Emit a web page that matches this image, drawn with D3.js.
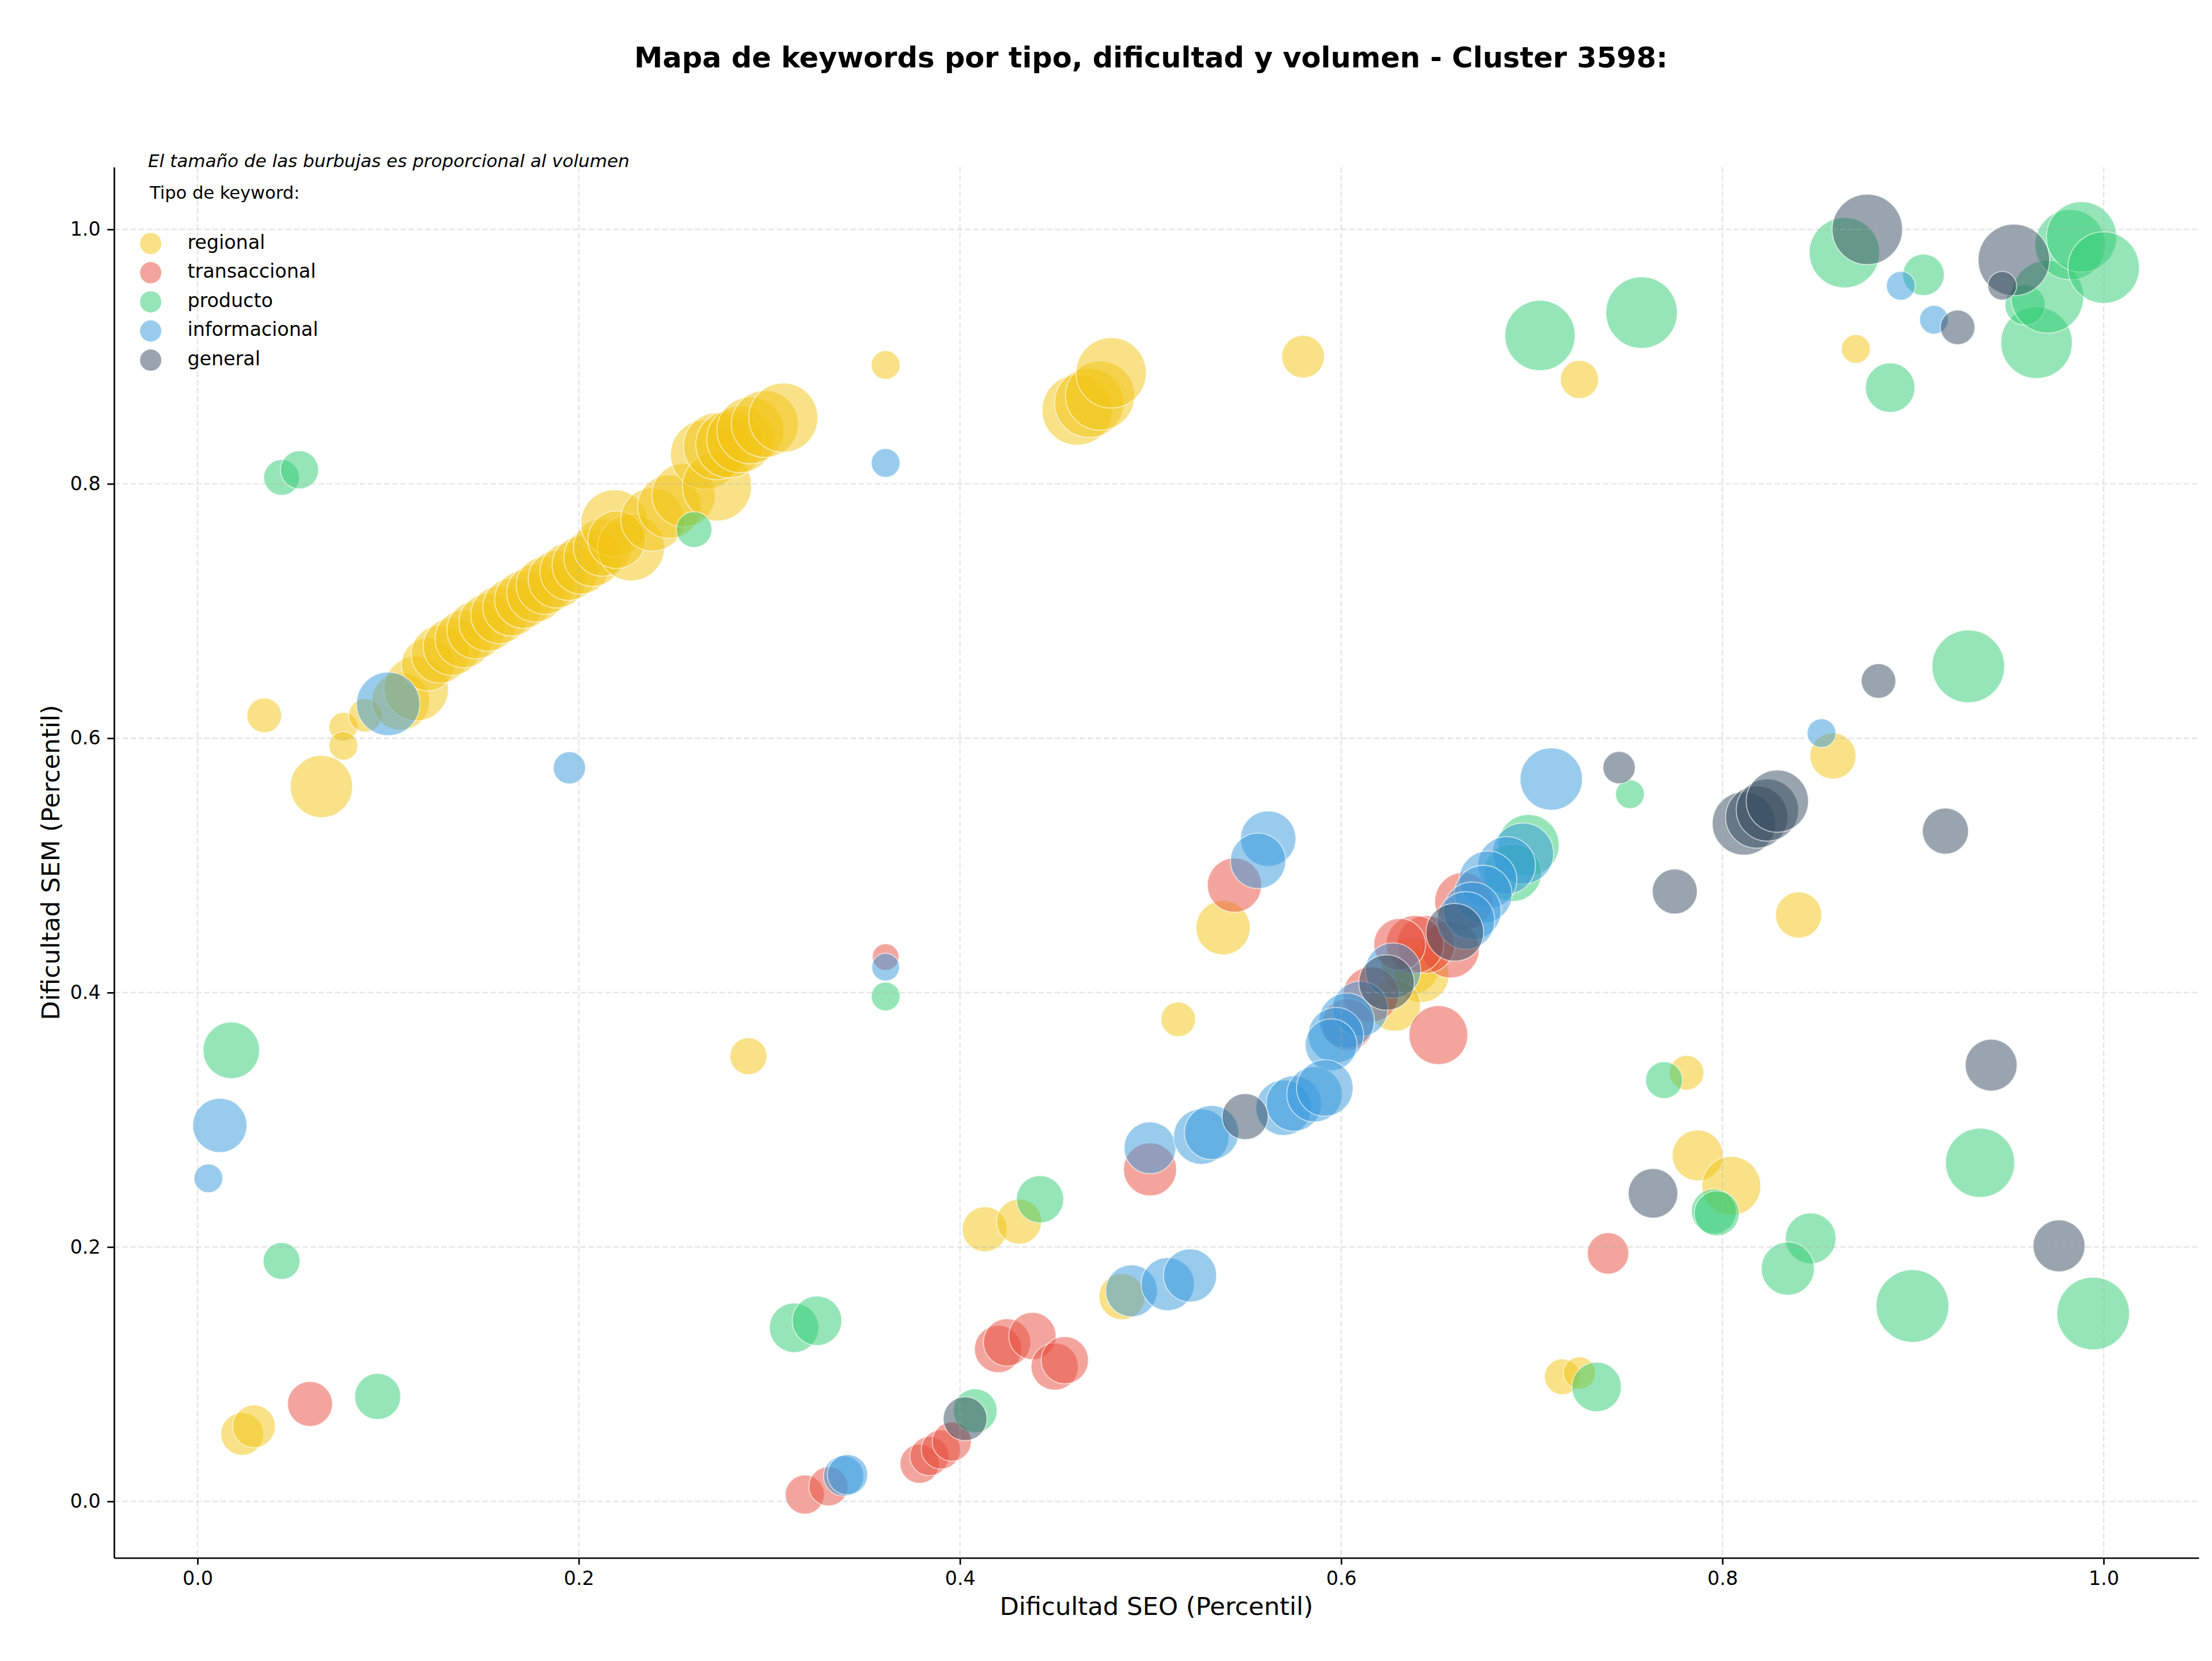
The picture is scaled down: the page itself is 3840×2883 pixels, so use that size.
<!DOCTYPE html>
<html>
<head>
<meta charset="utf-8">
<script src="https://cdn.jsdelivr.net/npm/d3@7"></script>
<style>
  body { margin: 0; background: #fff; }
  text { font-family: "DejaVu Sans", sans-serif; }
</style>
</head>
<body>
<div id="chart"></div>
<script>
// data: [dificultad SEO, dificultad SEM, volumen]
const regional = [
  [0.035, 0.618, 1170], [0.0765, 0.609, 810], [0.0765, 0.594, 810], [0.088, 0.618, 1090],
  [0.065, 0.562, 3790],
  [0.1066, 0.629, 3250], [0.1147, 0.639, 4080], [0.1209, 0.658, 2750], [0.1272, 0.666, 3250],
  [0.1335, 0.672, 3250], [0.1397, 0.678, 3250], [0.146, 0.685, 3250], [0.1523, 0.691, 3250],
  [0.1585, 0.697, 3250], [0.1648, 0.703, 3250], [0.171, 0.709, 3250], [0.1773, 0.714, 3250],
  [0.1823, 0.720, 3250], [0.1886, 0.725, 3250], [0.1948, 0.731, 3250], [0.2011, 0.736, 3250],
  [0.2073, 0.742, 3250], [0.2124, 0.750, 3250], [0.2186, 0.769, 4370], [0.2274, 0.750, 4370],
  [0.2199, 0.756, 3250], [0.2387, 0.772, 3930], [0.2475, 0.782, 3930], [0.255, 0.791, 3930],
  [0.2663, 0.823, 4680], [0.2725, 0.798, 4680], [0.2725, 0.8295, 4370], [0.2789, 0.831, 4370],
  [0.2847, 0.835, 4370], [0.290, 0.842, 4370], [0.2976, 0.847, 4370], [0.3073, 0.852, 4680],
  [0.361, 0.8934, 810],
  [0.4615, 0.858, 4840], [0.4678, 0.8636, 4680], [0.4735, 0.8693, 4680], [0.4793, 0.8872, 4840],
  [0.580, 0.900, 1780], [0.725, 0.882, 1420], [0.870, 0.906, 810],
  [0.858, 0.586, 2080], [0.840, 0.461, 2080], [0.538, 0.451, 2870], [0.5145, 0.379, 1170],
  [0.289, 0.350, 1330], [0.7812, 0.337, 1170], [0.787, 0.272, 2520], [0.8047, 0.248, 3380],
  [0.413, 0.214, 1980], [0.431, 0.220, 1980], [0.485, 0.161, 2080],
  [0.716, 0.098, 1250], [0.725, 0.101, 1020], [0.0234, 0.053, 1780], [0.0296, 0.059, 1780],
  [0.6365, 0.421, 3250], [0.642, 0.414, 3000], [0.628, 0.390, 2630]
];
const transaccional = [
  [0.361, 0.428, 690], [0.544, 0.4845, 2870], [0.651, 0.3666, 3380], [0.4997, 0.261, 2750],
  [0.740, 0.195, 1680], [0.059, 0.0766, 1980],
  [0.3186, 0.0054, 1500], [0.331, 0.0118, 1500], [0.3788, 0.0296, 1500], [0.384, 0.0356, 1500],
  [0.390, 0.0408, 1500], [0.3957, 0.047, 1500],
  [0.420, 0.1198, 2190], [0.4247, 0.125, 2190], [0.438, 0.130, 2190], [0.4497, 0.106, 2190],
  [0.455, 0.111, 2190],
  [0.6642, 0.4718, 3250], [0.6573, 0.4342, 3250], [0.6445, 0.4379, 3250], [0.6387, 0.4379, 3250],
  [0.6307, 0.4379, 2630], [0.6156, 0.3985, 3000], [0.6035, 0.375, 2630]
];
const producto = [
  [0.0441, 0.805, 1250], [0.0535, 0.811, 1420], [0.2605, 0.764, 1250], [0.361, 0.397, 810],
  [0.0177, 0.3546, 3120], [0.0441, 0.189, 1330], [0.0945, 0.0825, 2080],
  [0.313, 0.1365, 2400], [0.325, 0.142, 2400], [0.442, 0.2375, 2190], [0.408, 0.0713, 1880],
  [0.6983, 0.516, 3650], [0.690, 0.4943, 3250],
  [0.7043, 0.9166, 4840], [0.7576, 0.9346, 5000], [0.7515, 0.556, 810], [0.7694, 0.3312, 1330],
  [0.7955, 0.228, 1980], [0.797, 0.2265, 1980], [0.8463, 0.2068, 2520], [0.8343, 0.183, 2750],
  [0.734, 0.090, 2400], [0.8997, 0.1536, 5160], [0.9352, 0.2662, 4680], [0.9945, 0.1477, 5160],
  [0.929, 0.6565, 5160], [0.888, 0.8756, 2400], [0.9055, 0.9643, 1680], [0.864, 0.9817, 4840],
  [0.9648, 0.9109, 5000], [0.9588, 0.9406, 1590], [0.9705, 0.947, 5160], [0.9825, 0.988, 4840],
  [0.9884, 0.9941, 4840], [1.0, 0.970, 5000]
];
const informacional = [
  [0.361, 0.8164, 810], [0.100, 0.627, 3930], [0.1951, 0.5767, 1020], [0.361, 0.420, 750],
  [0.0117, 0.2956, 2870], [0.0057, 0.254, 810], [0.339, 0.020, 1590], [0.341, 0.021, 1590],
  [0.8936, 0.9557, 810], [0.911, 0.929, 810], [0.852, 0.604, 810],
  [0.7102, 0.5679, 3790], [0.5617, 0.521, 3000], [0.5564, 0.5036, 3000],
  [0.6954, 0.5093, 3650], [0.6868, 0.500, 3250], [0.677, 0.4887, 3250], [0.6745, 0.4774, 3250],
  [0.6688, 0.4643, 3250], [0.6654, 0.4567, 3250], [0.6272, 0.4173, 3000], [0.61, 0.3872, 3000],
  [0.6029, 0.3779, 3000], [0.5972, 0.3666, 3000], [0.5947, 0.359, 2630],
  [0.4997, 0.278, 2630], [0.5266, 0.2868, 3000], [0.532, 0.290, 2870], [0.5698, 0.3095, 3000],
  [0.5752, 0.3128, 3000], [0.586, 0.320, 3000], [0.5914, 0.325, 3120],
  [0.490, 0.1655, 2630], [0.509, 0.1708, 2750], [0.5207, 0.1776, 2750]
];
const general = [
  [0.876, 1.0, 4840], [0.9529, 0.976, 5000], [0.9468, 0.9557, 810], [0.9234, 0.923, 1170],
  [0.8819, 0.645, 1170], [0.7458, 0.5769, 1020], [0.775, 0.4795, 1980], [0.917, 0.527, 2080],
  [0.941, 0.343, 2630], [0.7636, 0.2422, 2400], [0.9766, 0.2009, 2630], [0.5496, 0.3025, 2080],
  [0.4027, 0.065, 1880],
  [0.8113, 0.533, 3930], [0.818, 0.538, 3790], [0.8236, 0.5435, 3790], [0.8288, 0.5505, 3790],
  [0.6596, 0.4474, 3250], [0.6238, 0.4079, 3000]
];

const tipos = ["regional", "transaccional", "producto", "informacional", "general"];
const colores = ["#f1c40f", "#e74c3c", "#2ecc71", "#3498db", "#34495e"];
const series = [regional, transaccional, producto, informacional, general];
const ticks = [0, 0.2, 0.4, 0.6, 0.8, 1.0];

const W = 3840, H = 2883;
const box = {left: 198, right: 3817, top: 290, bottom: 2704};

const svg = d3.select("#chart").append("svg")
    .attr("width", W)
    .attr("height", H);

const x = d3.scaleLinear().domain([-0.0438, 1.0499]).range([box.left, box.right]);
const y = d3.scaleLinear().domain([-0.0444, 1.049]).range([box.bottom, box.top]);
const r = d3.scaleSqrt().domain([0, 5000]).range([0, 62]);

const color = d3.scaleOrdinal().domain(tipos).range(colores);

// bubbles, one group per type (drawn in legend order)
series.forEach((data, i) => {
  svg.append("g")
    .selectAll("circle")
    .data(data)
    .enter()
    .append("circle")
    .attr("cx", d => x(d[0]))
    .attr("cy", d => y(d[1]))
    .attr("r", d => r(d[2]))
    .attr("fill", color(tipos[i]))
    .attr("fill-opacity", 0.5)
    .attr("stroke", "#fff")
    .attr("stroke-opacity", 0.6)
    .attr("stroke-width", 1.8);
});

// grid (matplotlib draws it above the scatter)
const grid = svg.append("g")
    .attr("stroke", "#b0b0b0")
    .attr("stroke-opacity", 0.3)
    .attr("stroke-width", 2.67)
    .attr("stroke-dasharray", "9.9,4.3");
grid.selectAll(".gx").data(ticks).enter().append("line")
    .attr("x1", d => x(d)).attr("x2", d => x(d))
    .attr("y1", box.top).attr("y2", box.bottom);
grid.selectAll(".gy").data(ticks).enter().append("line")
    .attr("y1", d => y(d)).attr("y2", d => y(d))
    .attr("x1", box.left).attr("x2", box.right);

// axes
const xAxis = svg.append("g")
    .attr("transform", `translate(0,${box.bottom})`)
    .call(d3.axisBottom(x).tickValues(ticks).tickFormat(d3.format(".1f"))
      .tickSize(11.7).tickSizeOuter(0).tickPadding(11.7));
const yAxis = svg.append("g")
    .attr("transform", `translate(${box.left},0)`)
    .call(d3.axisLeft(y).tickValues(ticks).tickFormat(d3.format(".1f"))
      .tickSize(11.7).tickSizeOuter(0).tickPadding(11.7));

[xAxis, yAxis].forEach(a => {
  a.select(".domain").attr("stroke", "#000").attr("stroke-width", 2.67);
  a.selectAll(".tick line").attr("stroke", "#000").attr("stroke-width", 2.67);
  a.selectAll(".tick text")
    .attr("fill", "#000")
    .style("font-family", "DejaVu Sans")
    .style("font-size", "33.3px");
});

// axis labels
svg.append("text")
    .attr("x", (box.left + box.right) / 2)
    .attr("y", 2803)
    .attr("text-anchor", "middle")
    .style("font-size", "43.3px")
    .text("Dificultad SEO (Percentil)");

svg.append("text")
    .attr("transform", `translate(103,${(box.top + box.bottom) / 2}) rotate(-90)`)
    .attr("text-anchor", "middle")
    .style("font-size", "43.3px")
    .text("Dificultad SEM (Percentil)");

// title
svg.append("text")
    .attr("x", 1998)
    .attr("y", 117)
    .attr("text-anchor", "middle")
    .style("font-size", "49.5px")
    .style("font-weight", "bold")
    .text("Mapa de keywords por tipo, dificultad y volumen - Cluster 3598:");

// note + legend
svg.append("text")
    .attr("x", 257)
    .attr("y", 290)
    .style("font-size", "31px")
    .style("font-style", "italic")
    .text("El tamaño de las burbujas es proporcional al volumen");

svg.append("text")
    .attr("x", 260)
    .attr("y", 345)
    .style("font-size", "30.5px")
    .text("Tipo de keyword:");

const legend = svg.append("g");
tipos.forEach((t, i) => {
  const cy = 422.7 + i * 50.6;
  legend.append("circle")
    .attr("cx", 261.6)
    .attr("cy", cy)
    .attr("r", 18.5)
    .attr("fill", color(t))
    .attr("fill-opacity", 0.5);
  legend.append("text")
    .attr("x", 325.4)
    .attr("y", cy)
    .attr("dy", "0.27em")
    .style("font-size", "33.3px")
    .text(t);
});
</script>
</body>
</html>
